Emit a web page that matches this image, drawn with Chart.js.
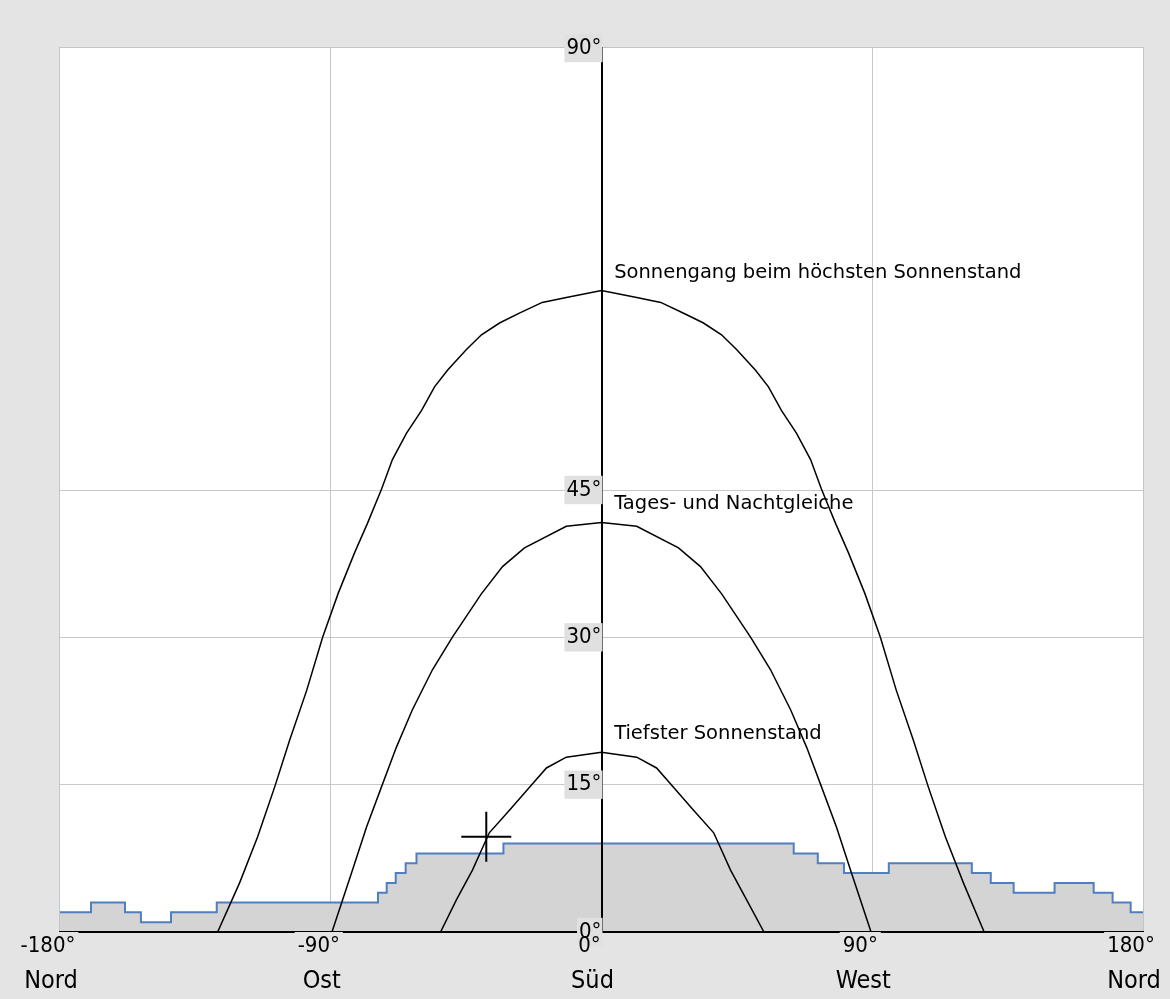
<!DOCTYPE html>
<html>
<head>
<meta charset="utf-8">
<title>Sonnenbahn</title>
<script src="https://cdn.jsdelivr.net/npm/chart.js@4.4.1/dist/chart.umd.min.js"></script>
<style>
  html, body { margin: 0; padding: 0; background: #e4e4e4; }
  #wrap { width: 1170px; height: 999px; }
</style>
</head>
<body>
<div id="wrap"><canvas id="sunChart" width="1170" height="999"></canvas></div>
<script>
// axis ticks
const xTicks = [-180, -90, 0, 90, 180];
const xDirections = ["Nord", "Ost", "Süd", "West", "Nord"];
const yTicks = [0, 15, 30, 45, 90];

// horizon: elevation holds from each azimuth until the next one
const horizonAz = [-180, -169.7, -158.4, -153.1, -143.1, -127.9, -74.3, -71.4, -68.4, -65.1, -61.5, -32.6,
                   63.9, 71.9, 80.6, 95.5, 123.1, 129.4, 137.0, 150.6, 163.6, 169.9, 175.9];
const horizonEl = [2, 3, 2, 1, 2, 3, 4, 5, 6, 7, 8, 9,
                   8, 7, 6, 7, 6, 5, 4, 5, 4, 3, 2];

// sun paths (azimuth, elevation)
const summerAz = [-127.6, -120.3, -114.3, -108.6, -103.7, -98, -92.7, -87.5, -82.1, -77.8, -73.1, -69.5, -64.8,
                  -59.8, -55.5, -51.2, -44.9, -39.9, -33.9, -27.3, -19.7, -11.7, 0,
                  11.7, 19.7, 27.3, 33.9, 39.9, 44.9, 51.2, 55.5, 59.8, 64.8, 69.5, 73.1, 77.8, 82.1, 87.5,
                  92.7, 98, 103.7, 108.6, 114.3, 120.3, 127.2];
const summerEl = [0, 5, 9.7, 14.8, 19.5, 24.6, 30, 34.5, 38.6, 41.6, 45.1, 48.1, 50.8,
                  53.1, 55.5, 57.2, 59.3, 60.8, 62, 63, 64.1, 64.6, 65.3,
                  64.6, 64.1, 63, 62, 60.8, 59.3, 57.2, 55.5, 53.1, 50.8, 48.1, 45.1, 41.6, 38.6, 34.5,
                  30, 24.6, 19.5, 14.8, 9.7, 5, 0];

const equinoxAz = [-89.6, -83.1, -78.1, -73.1, -68.2, -62.9, -56.2, -49.6, -40, -32.9, -25.6, -11.7, 0,
                   11.7, 25.6, 32.9, 40, 49.6, 56.2, 62.9, 68.2, 73.1, 78.1, 83.1, 89.6];
const equinoxEl = [0, 6, 10.7, 14.8, 18.8, 22.6, 26.7, 30, 34.4, 37.2, 39.1, 41.3, 41.7,
                   41.3, 39.1, 37.2, 34.4, 30, 26.7, 22.6, 18.8, 14.8, 10.7, 6, 0];

const winterAz = [-53.5, -48.2, -42.9, -37.3, -30.6, -24, -18.3, -11.7, 0,
                  11.7, 18.3, 24, 30.6, 37.3, 42.9, 48.2, 54];
const winterEl = [0, 3.3, 6.3, 10.1, 12.4, 14.7, 16.7, 17.8, 18.3,
                  17.8, 16.7, 14.7, 12.4, 10.1, 6.3, 3.3, 0];

const curveLabels = ["Sonnengang beim höchsten Sonnenstand", "Tages- und Nachtgleiche", "Tiefster Sonnenstand"];

// mouse cursor seen in the screenshot
const cursorAz = [-38.3];
const cursorEl = [9.7];

const fontFamily = "'Liberation Sans Narrow', 'DejaVu Sans Condensed', 'Arial Narrow', sans-serif";
const degreeFont = { family: fontFamily, size: 22, lineHeight: 1.2 };
const directionFont = { family: fontFamily, size: 25, lineHeight: 1.2 };
const bgGray = "#e4e4e4";

function toPoints(az, el) {
    return az.map((a, i) => ({ x: a, y: el[i] }));
}

function stepPoints(az, el, end) {
    const pts = [];
    az.forEach((a, i) => {
        const next = i + 1 < az.length ? az[i + 1] : end;
        pts.push({ x: a, y: el[i] }, { x: next, y: el[i] });
    });
    return pts;
}

const backgroundPlugin = {
    id: "background",
    beforeDraw(chart) {
        const { ctx, chartArea: a } = chart;
        ctx.save();
        ctx.fillStyle = bgGray;
        ctx.fillRect(0, 0, chart.width, chart.height);
        ctx.fillStyle = "#ffffff";
        ctx.fillRect(a.left, a.top, a.right - a.left, a.bottom - a.top);
        ctx.strokeStyle = "#c4c4c4";
        ctx.lineWidth = 1;
        ctx.strokeRect(a.left - 0.5, a.top - 0.5, a.right - a.left + 1, a.bottom - a.top + 1);
        ctx.restore();
    }
};

// text above the top of each sun path
const curveLabelPlugin = {
    id: "curveLabels",
    afterDatasetsDraw(chart) {
        const { ctx, scales: { x, y } } = chart;
        ctx.save();
        ctx.font = "19.5px 'DejaVu Sans', sans-serif";
        ctx.fillStyle = "#000";
        ctx.textAlign = "left";
        ctx.textBaseline = "alphabetic";
        [summerEl, equinoxEl, winterEl].forEach((el, i) => {
            const peak = Math.max(...el);
            ctx.fillText(curveLabels[i], x.getPixelForValue(4.2), y.getPixelForValue(peak) - 13);
        });
        ctx.restore();
    }
};

const curveStyle = { borderColor: "#000", borderWidth: 1.5, pointRadius: 0, fill: false, tension: 0, order: 2 };

new Chart(document.getElementById("sunChart"), {
    type: "line",
    data: {
        datasets: [
            { label: "Horizont", data: stepPoints(horizonAz, horizonEl, 180), borderColor: "#4f7fc0", borderWidth: 2,
              backgroundColor: "#d4d4d4", fill: "origin", pointRadius: 0, tension: 0, order: 5 },
            Object.assign({ label: curveLabels[0], data: toPoints(summerAz, summerEl) }, curveStyle),
            Object.assign({ label: curveLabels[1], data: toPoints(equinoxAz, equinoxEl) }, curveStyle),
            Object.assign({ label: curveLabels[2], data: toPoints(winterAz, winterEl) }, curveStyle),
            { label: "Cursor", data: toPoints(cursorAz, cursorEl), showLine: false, pointStyle: "cross",
              pointRadius: 25, borderColor: "#000", borderWidth: 2, order: 0 }
        ]
    },
    options: {
        responsive: false,
        animation: false,
        events: [],
        layout: { padding: { left: 60, right: 25, top: 48, bottom: 0 } },
        plugins: { legend: { display: false }, tooltip: { enabled: false } },
        scales: {
            x: {
                type: "linear",
                position: "bottom",
                weight: 0,
                min: -180,
                max: 180,
                afterBuildTicks: s => { s.ticks = xTicks.map(v => ({ value: v })); },
                afterFit: s => { s.height = 34; },
                grid: {
                    drawTicks: false,
                    lineWidth: 1,
                    color: c => (c.tick && Math.abs(c.tick.value) === 90) ? "#c8c8c8" : "rgba(0,0,0,0)"
                },
                border: { color: "#000", width: 2, z: 1 },
                ticks: {
                    z: 3,
                    padding: 1,
                    labelOffset: -12,
                    maxRotation: 0,
                    autoSkip: false,
                    color: "#000",
                    font: degreeFont,
                    callback: v => v + "°",
                    showLabelBackdrop: true,
                    backdropColor: c => (c.tick && c.tick.value === 0) ? "rgba(0,0,0,0)" : bgGray,
                    backdropPadding: { top: 1, bottom: 0, left: 3, right: 3 }
                }
            },
            // second line under the degree labels: compass directions
            xDir: {
                type: "linear",
                position: "bottom",
                weight: 1,
                min: -180,
                max: 180,
                afterBuildTicks: s => { s.ticks = xTicks.map(v => ({ value: v })); },
                afterFit: s => { s.height = 33; },
                grid: { display: false, drawTicks: false },
                border: { display: false },
                ticks: {
                    padding: 0,
                    labelOffset: -9,
                    maxRotation: 0,
                    autoSkip: false,
                    color: "#000",
                    font: directionFont,
                    callback: (v, i) => xDirections[i]
                }
            },
            y: {
                type: "linear",
                position: { x: 0 },
                min: 0,
                max: 90,
                afterBuildTicks: s => { s.ticks = yTicks.map(v => ({ value: v })); },
                grid: {
                    drawTicks: false,
                    lineWidth: 1,
                    color: c => (c.tick && [15, 30, 45].includes(c.tick.value)) ? "#c8c8c8" : "rgba(0,0,0,0)"
                },
                border: { color: "#000", width: 2, z: 1 },
                ticks: {
                    z: 2,
                    padding: 1,
                    color: "#000",
                    font: degreeFont,
                    callback: v => v + "°",
                    showLabelBackdrop: true,
                    backdropColor: "#e0e0e0",
                    backdropPadding: { top: 1, bottom: 1, left: 2, right: 1 }
                }
            }
        }
    },
    plugins: [backgroundPlugin, curveLabelPlugin]
});
</script>
</body>
</html>
